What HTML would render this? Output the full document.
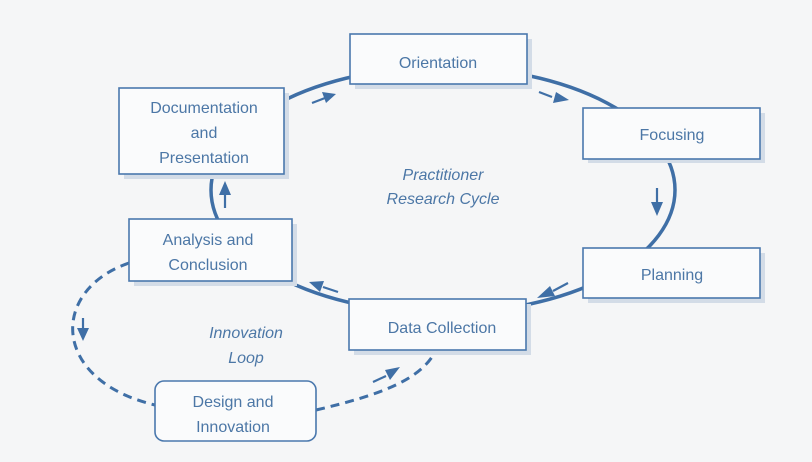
<!DOCTYPE html>
<html><head><meta charset="utf-8"><style>
html,body{margin:0;padding:0;background:#f5f6f7;}
svg{display:block;font-family:"Liberation Sans",sans-serif;}
.b{fill:#fafbfc;stroke:#4a78ad;stroke-width:1.6;}
.s{fill:#d3dce7;}
.t{fill:#4c77a6;font-size:16px;text-anchor:middle;}
.i{fill:#4c77a6;font-size:16px;text-anchor:middle;font-style:italic;}
.l{fill:none;stroke:#3f6fa6;stroke-width:3.5;}
.d{fill:none;stroke:#3f6fa6;stroke-width:3;stroke-dasharray:9 6;}
.a{stroke:#3f6fa6;stroke-width:2.2;fill:none;}
.h{fill:#3f6fa6;}
</style></head><body>
<svg width="812" height="462" viewBox="0 0 812 462">
<ellipse class="l" cx="443" cy="190" rx="232" ry="123"/>
<path class="d" d="M129,263 C50,290 50,380 155,405"/>
<path class="d" d="M316,410 C380,395 420,380 435,352"/>
<!-- shadows -->
<rect class="s" x="355" y="39" width="177" height="50"/>
<rect class="s" x="124" y="93" width="165" height="86"/>
<rect class="s" x="588" y="113" width="177" height="50"/>
<rect class="s" x="134" y="224" width="163" height="62"/>
<rect class="s" x="588" y="253" width="177" height="50"/>
<rect class="s" x="354" y="304" width="177" height="51"/>
<!-- boxes -->
<rect class="b" x="350" y="34" width="177" height="50"/>
<rect class="b" x="119" y="88" width="165" height="86"/>
<rect class="b" x="583" y="108" width="177" height="51"/>
<rect class="b" x="129" y="219" width="163" height="62"/>
<rect class="b" x="583" y="248" width="177" height="50"/>
<rect class="b" x="349" y="299" width="177" height="51"/>
<rect class="b" x="155" y="381" width="161" height="60" rx="9"/>
<text class="t" x="438" y="68">Orientation</text>
<text class="t" x="204" y="113">Documentation</text>
<text class="t" x="204" y="138">and</text>
<text class="t" x="204" y="163">Presentation</text>
<text class="t" x="672" y="140">Focusing</text>
<text class="t" x="208" y="245">Analysis and</text>
<text class="t" x="208" y="270">Conclusion</text>
<text class="t" x="672" y="280">Planning</text>
<text class="t" x="442" y="333">Data Collection</text>
<text class="t" x="233" y="407">Design and</text>
<text class="t" x="233" y="432">Innovation</text>
<text class="i" x="443" y="180">Practitioner</text>
<text class="i" x="443" y="204">Research Cycle</text>
<text class="i" x="246" y="338">Innovation</text>
<text class="i" x="246" y="363">Loop</text>
<!-- arrows -->
<line class="a" x1="312" y1="103" x2="325" y2="98"/><polygon class="h" points="336,94 322,92 326,103"/>
<line class="a" x1="539" y1="92" x2="552" y2="97"/><polygon class="h" points="569,100 556,92 553,103"/>
<line class="a" x1="657" y1="188" x2="657" y2="203"/><polygon class="h" points="657,216 651,202 663,202"/>
<line class="a" x1="568" y1="283" x2="553" y2="291"/><polygon class="h" points="537,298 550,286 555,296"/>
<line class="a" x1="338" y1="292" x2="323" y2="287"/><polygon class="h" points="309,282 324,281 320,292"/>
<line class="a" x1="225" y1="208" x2="225" y2="194"/><polygon class="h" points="225,181 219,195 231,195"/>
<line class="a" x1="83" y1="318" x2="83" y2="330"/><polygon class="h" points="83,341 77,328 89,328"/>
<line class="a" x1="373" y1="382" x2="386" y2="376"/><polygon class="h" points="400,367 385,370 390,380"/>
</svg>
</body></html>
